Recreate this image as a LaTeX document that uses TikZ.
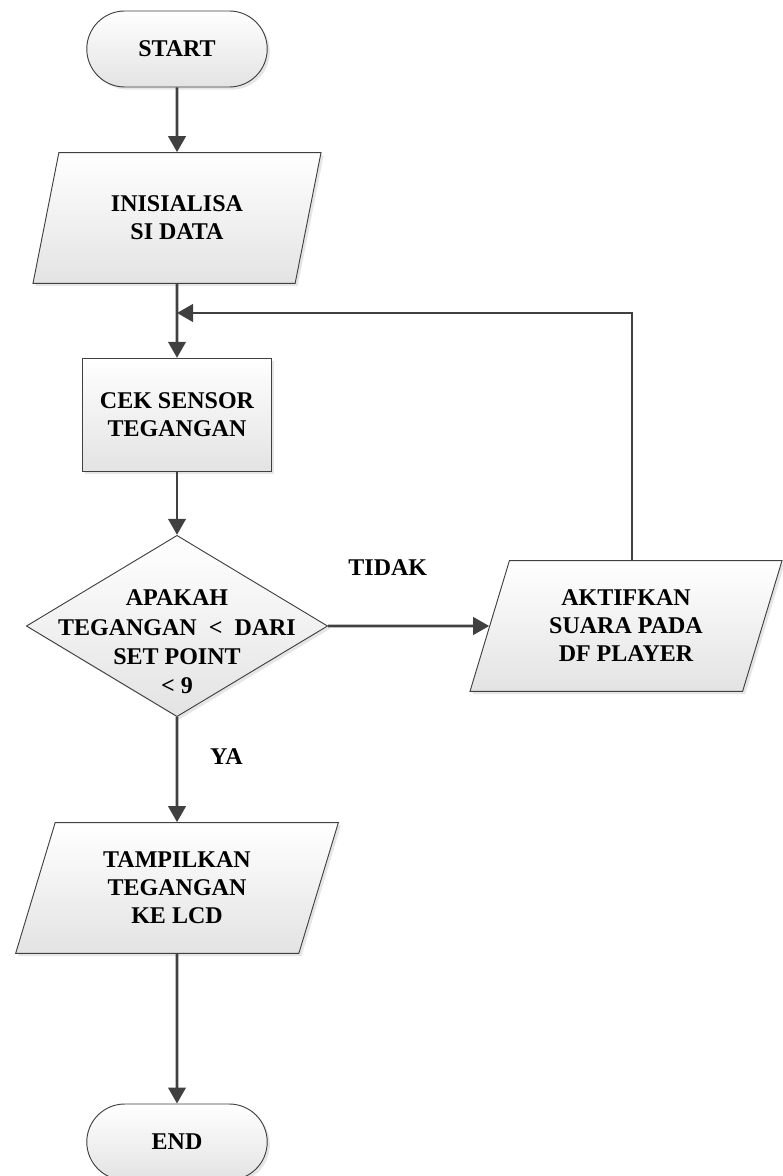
\documentclass[tikz,border=0pt]{standalone}
\usepackage{fontspec}
\setmainfont{Liberation Serif}
\usetikzlibrary{calc,shapes.geometric,shapes.misc,arrows.meta,shadows}
\definecolor{linegray}{HTML}{404040}

\begin{document}
\begin{tikzpicture}[x=0.75pt, y=-0.75pt,
    box/.style={draw=linegray, line width=0.7pt, top color=white, bottom color=black!11,
        drop shadow={shadow xshift=2pt, shadow yshift=-2pt, opacity=0.2},
        font=\fontsize{18}{21}\selectfont\bfseries, align=center},
    term/.style={box, rounded rectangle, minimum width=142pt, minimum height=57pt},
    proc/.style={box, rectangle, minimum width=142pt, minimum height=85pt},
    io/.style={box, trapezium, trapezium left angle=64, trapezium right angle=116,
        trapezium stretches body, minimum height=98pt},
    decision/.style={box, diamond, inner sep=0pt, minimum width=226pt, minimum height=136pt},
    lbl/.style={font=\fontsize{18}{22}\selectfont\bfseries, align=center},
    flow/.style={draw=linegray, line width=2.2pt, -{Triangle[length=12pt, width=13pt]}}]

    \useasboundingbox (0, 0) rectangle (782, 1176);

    \node [term] (start) at (177, 49) {START};
    \node [io, minimum width=216pt] (init) at ($(start) + (0, 169)$) {INISIALISA\\SI DATA};
    \node [proc] (cek) at ($(init) + (0, 197)$) {CEK SENSOR\\TEGANGAN};
    \node [decision] (cond) at ($(cek) + (0, 211)$) {};
    \node [lbl] (condtext) at ($(cond) + (0, 16)$) {APAKAH\\TEGANGAN \ < \ DARI\\SET POINT\\< 9};
    \node [io, minimum width=234pt] (aktif) at ($(cond) + (449, 0)$) {AKTIFKAN\\SUARA PADA\\DF PLAYER};
    \node [io, minimum width=242pt] (tampil) at ($(cond) + (0, 262)$) {TAMPILKAN\\TEGANGAN\\KE LCD};
    \node [term] (end) at ($(tampil) + (0, 254)$) {END};
    \coordinate (back) at (177, 313);

    \draw [flow] (start) -- (init);
    \draw [flow] (init) -- (cek);
    \draw [flow] (cek) -- (cond);
    \draw [flow] (cond) -- node [lbl, pos=0.37, yshift=44pt] {TIDAK} (aktif);
    \draw [flow] (cond) -- node [lbl, pos=0.38, xshift=37pt] {YA} (tampil);
    \draw [flow] (tampil) -- (end);
    \draw [flow] ($(aktif.north) + (6, 0)$) |- (back);
\end{tikzpicture}
\end{document}
